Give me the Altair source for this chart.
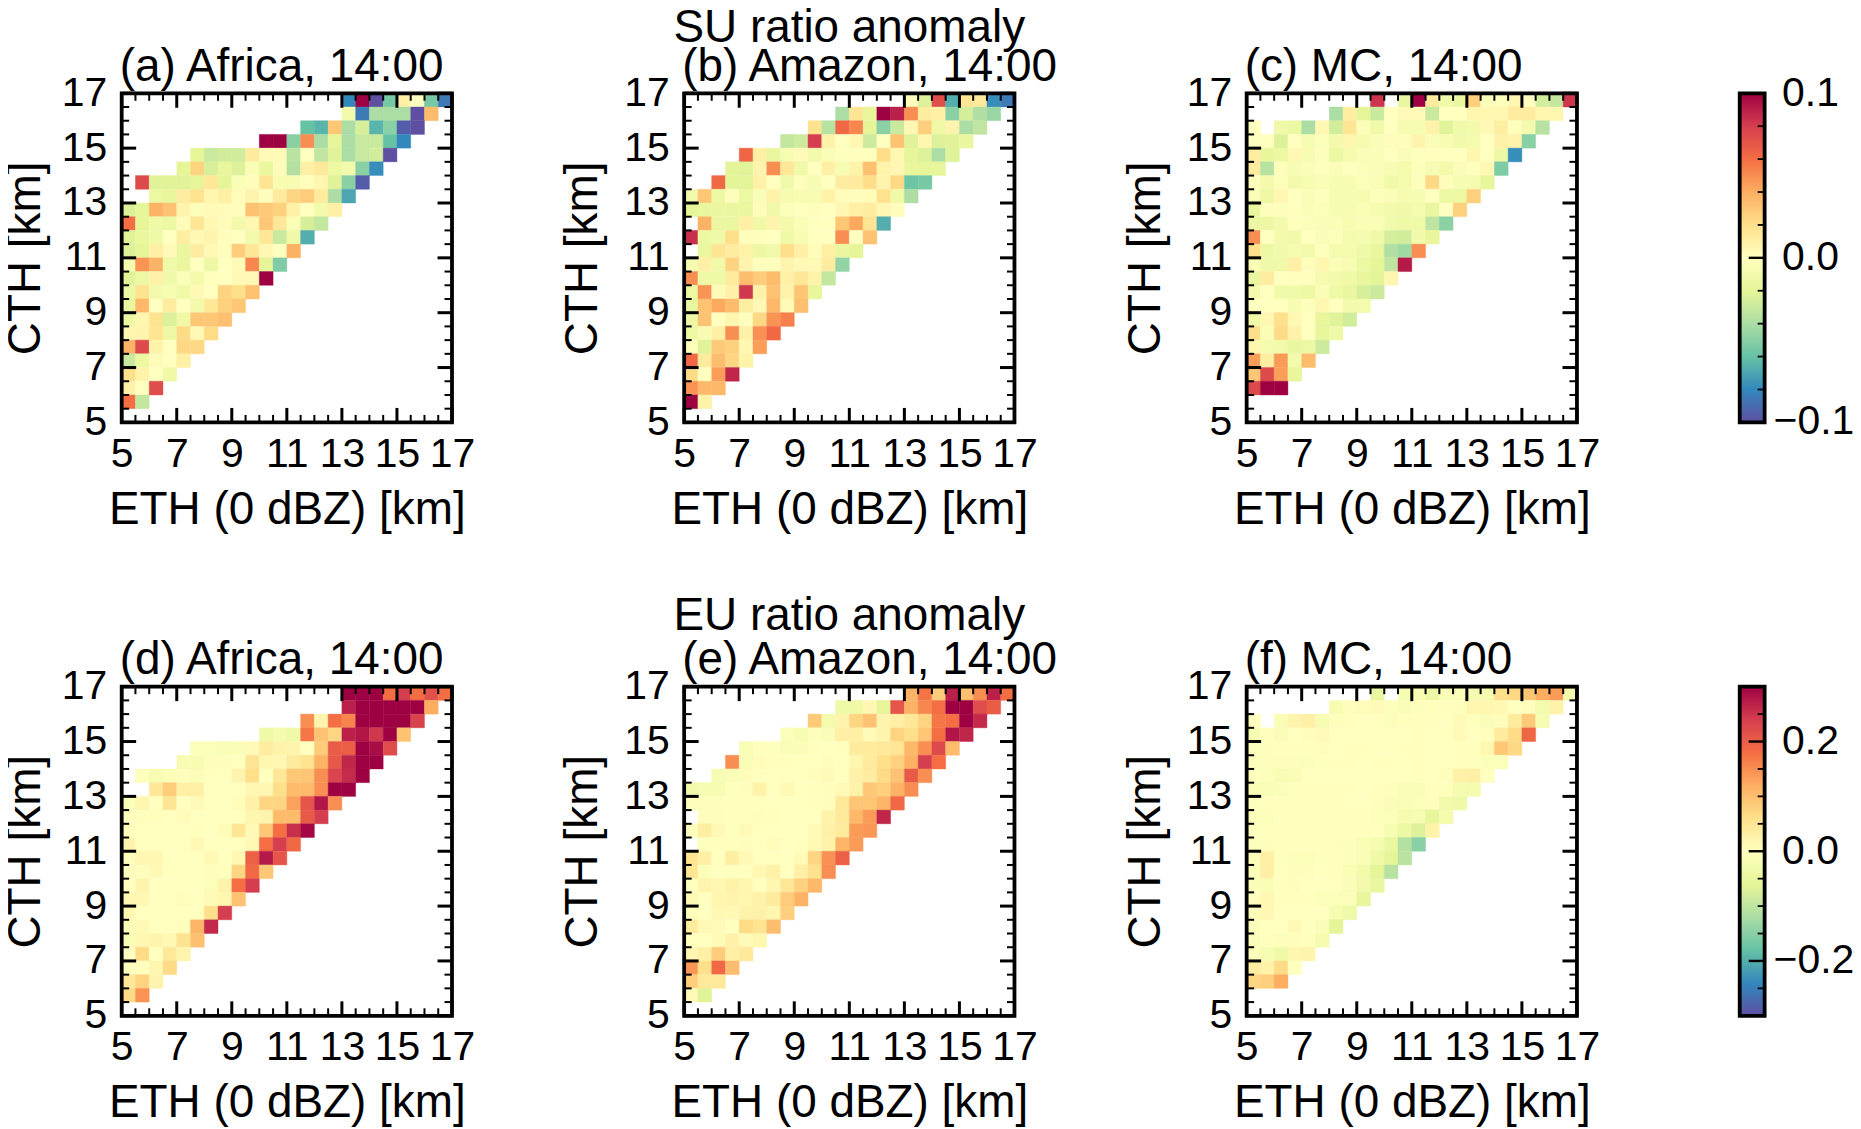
import altair as alt
import pandas as pd

FONT = "Liberation Sans"
FS = 46
TICK_FS = 41
W, H = 331.2, 330
LEFT0, TOP0 = 122, 92
SVG_W, SVG_H = 1850, 1121

SPECTRAL = ["#5e4fa2", "#3288bd", "#66c2a5", "#abdda4", "#e6f598", "#ffffbf",
            "#fee08b", "#fdae61", "#f46d43", "#d53e4f", "#9e0142"]
X0, BIN = 5, 0.5
MAJOR = [5, 7, 9, 11, 13, 15, 17]
MINOR = [5.5, 6, 6.5, 7.5, 8, 8.5, 9.5, 10, 10.5, 11.5, 12, 12.5,
         13.5, 14, 14.5, 15.5, 16, 16.5]

# every row, from CTH 17 km downward: (first ETH column, values as tenths of the colour limit)
N = None
A = [(16,[-8,10,-10,-5.5,1,0,-5.5,-8.5]),
(16,[-1,-8.5,-4,-4,-4,-10,3.5]),
(13,[-6,-6.5,3,-4,-2.5,-6.5,-5,-9.5,-10]),
(10,[10,10,-5,5,-4,-2,-4,-3,-3,-6,-8]),
(5,[-2,-3,-2.7,-2.7,1.3,.3,.3,-3.5,0,-3.3,-2.2,-4,-3,-2.7,-10]),
(4,[-2,2.5,-2.5,-1.8,-2.3,-.5,-1.7,.2,-3.7,1,1.4,-1.5,-1,-5,-7.8]),
(1,[7.5,-2.2,-2.2,-2.2,-2,1.5,-2,-.5,.1,1.7,-.6,-.6,-.1,.6,-2.2,-5,-9.5]),
(2,[-1.5,-1.8,1.2,1.8,.6,1,.2,.7,.1,1.3,2.4,2.8,1.3,-4,-7]),
(0,[-2.3,-2,3.8,3.2,.7,-.3,.3,.2,.1,3.2,2.9,2.6,.9,0,-1,1]),
(0,[6,-2,-1.3,-1.5,.2,1.6,.5,.2,-1,.5,3,1.5,-.5,-2.5,-3.2]),
(0,[-2.2,-1.7,-1.3,0,1.1,.4,.7,.1,0,-1,1.5,-3,-1.2,-6.7]),
(0,[-2.3,-2,1,.3,-1.7,1.2,.4,.1,2.8,1.5,.5,0,3.9]),
(0,[-.8,4.8,3.8,-1.2,-1.7,0,-1.4,0,.3,5.2,-2,-5.3]),
(0,[-2.2,-1.4,.9,-1.2,-.4,-1,-.1,0,.4,.4,10]),
(0,[-1.5,1.8,-1,-.7,-1.2,.4,0,2.5,2,3.2]),
(0,[-1.7,3.6,0,1.2,0,-1,1.5,2.6,3]),
(0,[-1.5,.6,1.8,-2.3,-1.2,3,3,3.3]),
(0,[.6,.7,1.7,-1.4,2.2,.4,2.2]),
(0,[3.8,7.5,.8,0,2.3,2.3]),
(0,[-3,-1.5,.2,0,1]),
(0,[2,.8,0,-1.3]),
(0,[.9,0,7.4]),
(0,[6,-3.2])]

B = [(16,[-.2,-2.3,7.3,-6.7,1.7,1.4,-7.8,-8.5]),
(11,[-4,1.6,-1.8,10,9,5,1.2,1,-5,-2.6,-3.8,-4.5]),
(9,[1.9,-3.6,6.2,5.2,-2,-5,-3,.5,2.7,-1.3,.7,-4,-3.3]),
(7,[-3.2,-2.8,8,.8,0,.5,-2.8,0,3.2,-2.2,.6,-2.3,-2.2,-1.6]),
(4,[6.3,1,-1.7,-.7,.3,-1,-.4,-.1,-.1,-.1,2.1,.5,-2,-2.3,-4,-2.2]),
(3,[-2.1,-2.2,.7,5,1.5,-1.2,0,1,-.7,.8,3.3,.8,.5,-1.8,-1.9,-1.9]),
(2,[6.2,-2.1,-2.1,.9,0,-1.1,-.2,-.7,0,1.2,1.3,2.1,.7,2.3,-5.8,-5.5]),
(0,[-1,3,-1.5,.1,-1.5,-.4,.8,-.8,-.6,-.6,.8,.2,.1,.2,1.9,-1.3,-3.9]),
(0,[-2,-1.7,-1.6,-1.6,-1.7,.2,-1.2,-.3,0,-.2,0,.5,1,1.2,.5,.1]),
(1,[3.8,-1.6,-1.6,1,-1.3,.7,-1,-.5,-.1,0,3,4.2,1.7,-6.7]),
(0,[8.5,-1.5,-1.2,2,.1,-.2,0,-1.2,-.6,0,0,5,0,3.2]),
(1,[-1.7,1.7,1.2,.8,-1.4,-1.1,2,1,.2,1,-1.6,-2]),
(0,[-.8,1,-1.2,2.5,.7,-.2,-.2,.7,.4,.4,1.2,-4.7]),
(0,[5,-1.3,-1.3,1.3,3.4,2.8,3.5,.9,1.5,.8,-3.2]),
(0,[-1.5,4.8,.3,.9,8.2,.9,3.2,.8,3.1,-1.8]),
(0,[-1.6,3.2,4.2,3.5,1.1,.4,3.6,.3,3.3]),
(0,[-1.4,3.2,0,.6,-.1,2.3,4.8,5.4]),
(0,[-1.5,-.6,1,5,.9,4.9,6.2]),
(0,[-.2,-2.2,2.9,2.6,.5,4.5]),
(0,[6.2,1.3,3.4,2.4,.8]),
(0,[2.2,0,4.5,8.8]),
(0,[4.8,3.6,3.6]),
(0,[10,.8])]

C = [(9,[8.3,N,-1.6,10,1.3,-1.1,-1.6,2.7,-.4,-.2,.5,0,-2.7,-3.2,8.3]),
(6,[-4,1.1,-2,-3,0,.3,.3,-3,0,0,.6,.5,.5,1.2,1.2,.6,.6]),
(0,[0,N,-1.2,-1.5,-4,.5,-2.7,1.6,-.3,-1.2,0,-.8,-.7,.8,-2.2,-1.2,-1,.4,1.1,-.1,-1,-3.6]),
(0,[0,0,-2.3,0,-.7,-.3,-1,.6,-.8,-.4,.1,.1,.7,-.4,-.6,-1.1,-.9,0,.9,.8,-5]),
(0,[1.1,-1.8,-1.5,.5,-.6,-.2,-1.5,-.9,-.4,-.4,0,-.4,-.1,-.2,0,0,.6,0,-1.4,-7.8]),
(0,[1.3,-3.6,-.2,-.7,-.4,-.1,-.4,0,-.3,-.4,-.7,-.9,-.2,-.7,-1,-.4,-.1,.5,-5.3]),
(0,[-.2,-1,-.3,-1,-.7,-.4,-.7,-.7,-.3,-.5,-1.2,-.9,-.2,2.3,.1,-.7,-.8,-1.8]),
(0,[-.5,-1.4,.5,0,-.4,-.1,-.7,-.7,-.8,-.3,-.5,-.8,-.7,0,-1.5,-1.5,2.6]),
(0,[-1.7,-.2,-.2,-.1,-.5,-.3,-.7,-.7,-.5,-.8,-1,-1.2,-.8,-1.7,0,2.6]),
(0,[-1.4,-1.4,-1,-.1,-.3,-.4,-.5,-.6,-.5,-.5,-1.1,-1.3,-1.2,-3.4,-4.9]),
(0,[5,0,-1,-1.1,0,-.4,-.3,-.9,-.8,-1.2,-2.6,-2.7,-1.1,-1.8]),
(0,[2,-1.4,-1.1,-.8,-1,-.1,-.9,-.9,-1.2,-1.8,-3.8,-4.3,5]),
(0,[-.5,-1.2,-1.2,1,.1,.6,-.5,-.6,-1.5,-2,-3.3,9.2]),
(0,[-1.6,1.2,0,-.1,-.1,-.8,-1,-1.3,-1.8,-2.1,.6]),
(0,[-1,0,-1.1,-1.1,-1.4,-.5,-1.3,-1.6,-2.5,-2.9]),
(0,[0,0,0,-.7,-.2,.5,0,-1,-.9]),
(0,[-1.3,.5,2,.5,0,-1.8,-2.2,-2.7]),
(0,[2,-.5,2.2,.8,0,-1.8,-1.2]),
(0,[.6,-.9,-1,-1.6,-1.4,-2.8]),
(0,[4.5,1.1,4.6,-1,3.5]),
(0,[3,7.5,4.5,-1.8]),
(0,[7.5,10,10])]

D = [(16,[10,10,10,6,8,6,7.2,6]),
(16,[9,10,10,10,10,10,4]),
(13,[5,.7,6,5.3,10,10,10,10,7.8]),
(10,[-1.2,-.9,-1.2,5.7,3.2,2.4,9,9.3,8.2,10,3.2]),
(5,[-.3,-.3,-.5,-.4,.3,1.2,.8,.7,0,2.8,6.7,6.6,10,9.6,7.4]),
(4,[-.6,-.6,-.2,-.2,0,1.7,.6,.5,1.3,1.8,3.8,6.9,8.8,10,10]),
(1,[-.1,-.6,-.3,-.2,-.4,-.1,0,.7,2,0,1.5,3,3.1,5,7.7,8.6,10]),
(2,[1.5,2.8,1,1,0,0,0,.5,.5,2,3.5,3.5,5,10,10]),
(0,[-.3,.6,0,1.7,0,.3,0,0,.2,.9,2.4,2.4,4.4,7,9.3,5]),
(0,[-.2,-.2,-.1,0,.2,0,0,0,0,.6,.7,3.5,3.5,6.8,8]),
(0,[-.1,0,0,0,0,-.1,0,.2,1.6,.4,3,6,8.5,9.8]),
(0,[.7,0,0,0,0,.4,0,0,0,.4,6,8,6.2]),
(0,[-.2,.5,.5,0,0,0,.4,0,.5,6.5,9.2,7]),
(0,[-.2,-.2,.4,0,0,0,-.2,-.1,2.4,6.2,3]),
(0,[0,.7,0,0,0,0,-.3,.8,6,8]),
(0,[.5,.5,0,0,.1,0,.3,.6,3.2]),
(0,[.5,0,0,0,0,0,2,8]),
(0,[-.4,.4,0,0,.1,3.7,8.7]),
(0,[-.5,.5,.7,.4,1.8,3.3]),
(0,[0,2.2,0,1.4,.7]),
(0,[-.1,-.1,.6,2.2]),
(0,[1.5,2.5,.7]),
(0,[2.2,4.8])]

E = [(16,[3.8,5.8,2.8,9,3.3,5,9,6]),
(11,[-1.2,-1.3,.5,-2,7,3.8,5.2,6,10,10,7.4,6.7]),
(9,[2.9,-.9,.7,2.4,3.2,.7,1,1.5,2.5,5.7,6,10,8.7]),
(7,[-.3,-.7,-.2,-.4,1,1,.3,.7,2.5,2,3.1,6,9.3,8.8]),
(4,[-.5,-.1,-.1,-.4,-.4,-.1,0,-.1,1.3,1.3,1.4,1.6,3.6,5,7.5,3.5]),
(3,[5,-.5,.2,-.1,-.1,0,0,.1,0,.6,1.3,2,2.6,3.9,8,6]),
(2,[-.7,-.4,.2,0,0,0,0,.1,.3,0,.9,1.2,2.2,3.2,6.8,5]),
(0,[-1,-.7,-.7,-.1,-.2,.8,0,.4,0,-.1,.1,.3,.8,3,2.7,3.8,5]),
(0,[-.2,-.2,-.2,-.1,-.1,-.1,0,0,0,-.1,.1,1.4,3.1,3.1,3.7,6.2]),
(1,[-.2,-.2,-.1,-.1,-.2,-.1,0,0,0,.8,1.4,3.6,4.6,8.8]),
(0,[-.1,1.1,.4,-.1,.3,-.1,0,0,0,.3,.9,1.3,4.6,4.7]),
(1,[-.1,-.1,-.1,-.2,0,.2,0,-.1,.4,.8,3.7,4.6]),
(0,[1.8,1,0,1.1,.4,0,0,0,.3,2.4,4.9,6.5]),
(0,[1.6,-.3,0,0,0,.5,.9,0,1,1.9,5]),
(0,[0,.7,.5,.8,.6,0,.6,1.5,2.6,3.6]),
(0,[.4,0,.6,.7,.6,.9,1.3,2.8,3.8]),
(0,[-.2,0,.5,.4,.8,.9,.6,2.7]),
(0,[1.3,.4,.3,0,2.2,1.8,3.4]),
(0,[0,0,.3,.9,.3,.6]),
(0,[.5,1,2.8,1,1.4]),
(0,[4.7,2,6.2,3.4]),
(0,[2.8,1.4,1.4]),
(0,[.3,-2.2])]

F = [(9,[-1.6,N,-.7,-.6,-1.4,-.4,-.4,-.8,-.8,2,2.3,3.1,4,4.6,-.9]),
(6,[-.6,-.2,.2,.3,-.2,-.4,-.2,-.1,-.1,-.2,.6,.6,.4,0,-.2,-.9,.8]),
(0,[-.1,N,-.5,.7,1,-.7,-.2,-.1,0,0,-.3,-.1,-.1,-.1,0,.3,-.1,-.4,.1,1.3,2.9,-.7]),
(0,[-.7,-.1,-.4,0,.1,.3,0,0,0,0,0,0,-.1,0,0,.3,0,-.1,1.3,2.2,6.3]),
(0,[-.2,-.2,-.1,-.1,-.1,.1,0,-.1,-.1,0,0,-.1,-.1,0,0,-.1,-.1,.6,3,2.3]),
(0,[-.2,-.2,-.2,-.2,-.3,-.1,-.1,-.1,0,-.1,-.1,0,-.1,0,0,-.1,-.1,-.3,-.3]),
(0,[-.1,-.3,-.6,-.5,0,0,0,0,0,0,0,0,-.1,0,.1,.9,1,0]),
(0,[-.5,-.5,-.3,-.1,-.1,-.1,-.1,-.1,0,-.1,-.2,-.4,-.5,-.1,-.1,-.8,-.8]),
(0,[-.2,-.1,-.1,-.1,-.1,-.1,-.1,0,0,-.2,-.4,-.4,-.3,-.2,-1,-1.2]),
(0,[-.3,-.3,-.1,-.1,-.1,-.1,-.1,-.1,-.1,-.3,-.3,-.8,-.7,-1.9,-.9]),
(0,[-.1,-.1,-.1,-.1,-.1,-.1,-.1,-.1,-.1,-.1,-.7,-1.5,-2.3,.8]),
(0,[-.2,-.2,-.1,-.1,-.1,-.1,-.2,-.2,-.5,-.8,-1.7,-3.7,-5]),
(0,[-.3,1,-.1,-.3,-.3,-.1,-.1,-.2,-.5,-1.3,-2,-3.5]),
(0,[-.3,1,0,.1,.1,0,-.1,-.5,-1,-2,-3.6]),
(0,[-.3,-.5,-.1,-.2,0,0,0,-.4,-1,-1.6]),
(0,[-.1,.5,-.1,-.1,-.1,-.3,-.3,-.3,-1.8]),
(0,[-.3,.5,0,0,0,0,-.8,-1.2]),
(0,[-.3,0,0,.4,0,-.4,-2]),
(0,[-.3,-.1,-.2,-.2,-.1,-.8]),
(0,[-.3,-.7,-1.2,.6,.7]),
(0,[1.2,.8,2.2,0]),
(0,[2.4,2.7,4])]

PANELS = [("(a) Africa, 14:00", A, 0.1), ("(b) Amazon, 14:00", B, 0.1), ("(c) MC, 14:00", C, 0.1),
          ("(d) Africa, 14:00", D, 0.3), ("(e) Amazon, 14:00", E, 0.3), ("(f) MC, 14:00", F, 0.3)]
SUPER = {1: ("SU ratio anomaly", -51), 4: ("EU ratio anomaly", -57)}

AX_X = alt.Axis(values=MAJOR, title="ETH (0 dBZ) [km]", grid=False, domain=False, ticks=False, tickSize=0,
                labelPadding=12, titlePadding=13, labelFlush=False, labelOverlap=False, format="d")


def y_axis(col):
    return alt.Axis(values=MAJOR, title="CTH [km]", grid=False, domain=False, ticks=False, tickSize=0,
                    labelPadding=15, titlePadding=12 if col == 0 else 17,
                    labelFlush=False, labelOverlap=False, format="d")


def table(rows, vmax):
    out = []
    for r, (start, vals) in enumerate(rows):
        for i, u in enumerate(vals):
            if u is None:
                continue
            x = X0 + BIN * (start + i)
            top = 17 - BIN * r
            out.append({"x": x, "x2": x + BIN, "y": top - BIN, "y2": top, "v": u * vmax / 10})
    return pd.DataFrame(out)


def tick_layers(sx, sy, ax_y):
    layers = []
    for vals, ln, wd in ((MAJOR, 14.5, 3), (MINOR, 7.5, 2)):
        d = pd.DataFrame({"t": vals})
        X = alt.X("t:Q", scale=sx, axis=AX_X)
        Y = alt.Y("t:Q", scale=sy, axis=ax_y)
        layers += [
            alt.Chart(d).mark_rule(color="black", strokeWidth=wd).encode(x=X, y=alt.value(0), y2=alt.value(ln)),
            alt.Chart(d).mark_rule(color="black", strokeWidth=wd).encode(x=X, y=alt.value(H - ln), y2=alt.value(H)),
            alt.Chart(d).mark_rule(color="black", strokeWidth=wd).encode(y=Y, x=alt.value(0), x2=alt.value(ln)),
            alt.Chart(d).mark_rule(color="black", strokeWidth=wd).encode(y=Y, x=alt.value(W - ln), x2=alt.value(W)),
        ]
    return layers


def label(text, px, py, align):
    return alt.Chart(pd.DataFrame({"t": [text]})).mark_text(
        font=FONT, fontSize=FS, baseline="alphabetic", align=align, color="black"
    ).encode(text="t:N", x=alt.value(px), y=alt.value(py))


def panel(idx, title, rows, vmax):
    ax_y = y_axis(idx % 3)
    sx = alt.Scale(domain=[5, 17], nice=False, zero=False)
    sy = alt.Scale(domain=[5, 17], nice=False, zero=False)
    dom = [vmax * (k - 5) / 5 for k in range(11)]
    col = alt.Scale(domain=dom, range=SPECTRAL, clamp=True, interpolate="rgb")
    cells = alt.Chart(table(rows, vmax)).mark_rect(strokeWidth=0.4).encode(
        x=alt.X("x:Q", scale=sx, axis=AX_X), x2="x2:Q",
        y=alt.Y("y:Q", scale=sy, axis=ax_y), y2="y2:Q",
        color=alt.Color("v:Q", scale=col, legend=None),
        stroke=alt.Stroke("v:Q", scale=col, legend=None),
    )
    frame = alt.Chart(pd.DataFrame({"a": [5], "b": [17]})).mark_rect(
        fillOpacity=0, stroke="black", strokeWidth=3.8
    ).encode(x=alt.X("a:Q", scale=sx, axis=AX_X), x2="b:Q", y=alt.Y("a:Q", scale=sy, axis=ax_y), y2="b:Q")
    layers = [cells] + tick_layers(sx, sy, ax_y) + [frame, label(title, -2, -12.5, "left")]
    if idx in SUPER:
        layers.append(label(SUPER[idx][0], W / 2, SUPER[idx][1], "center"))
    return alt.layer(*layers).properties(width=W, height=H)


CB_LEFT, CB_W = -69.6, 25
# labels at or above zero, label below zero (value, text), major ticks, minor ticks
CB_TICKS = {0.1: ([0.0, 0.1], (-0.1, "\u22120.1"), [0.0], [-0.08, -0.06, -0.04, -0.02, 0.02, 0.04, 0.06, 0.08]),
            0.3: ([0.0, 0.2], (-0.2, "\u22120.2"), [-0.2, 0.0, 0.2], [-0.25, -0.15, -0.1, -0.05, 0.05, 0.1, 0.15, 0.25])}


def colorbar(vmax):
    pos, neg, major, minor = CB_TICKS[vmax]
    sy = alt.Scale(domain=[-vmax, vmax], nice=False, zero=False)
    stops = [{"color": c, "offset": k / 10} for k, c in enumerate(SPECTRAL)]
    grad = {"gradient": "linear", "x1": 0, "y1": 1, "x2": 0, "y2": 0, "stops": stops}
    d = pd.DataFrame({"a": [-vmax], "b": [vmax]})
    right = CB_LEFT + CB_W
    ax = alt.Axis(orient="right", values=pos, title=None, grid=False, domain=False, ticks=False, tickSize=0,
                  labelPadding=17, offset=right - CB_W, labelFlush=False, labelOverlap=False, format=".1f")
    Y = lambda f: alt.Y(f, scale=sy, axis=ax)
    bar = alt.Chart(d).mark_rect(fill=grad).encode(x=alt.value(CB_LEFT), x2=alt.value(right), y=Y("a:Q"), y2="b:Q")
    tk = []
    for vals, ln, wd in ((major, 16, 2.4), (minor, 7, 1.8)):
        tk.append(alt.Chart(pd.DataFrame({"t": vals})).mark_rule(color="black", strokeWidth=wd).encode(
            y=Y("t:Q"), x=alt.value(right - ln), x2=alt.value(right)))
    frame = alt.Chart(d).mark_rect(fillOpacity=0, stroke="black", strokeWidth=3.8).encode(
        x=alt.value(CB_LEFT), x2=alt.value(right), y=Y("a:Q"), y2="b:Q")
    neg_label = alt.Chart(pd.DataFrame({"t": [neg[0]], "s": [neg[1]]})).mark_text(
        font=FONT, fontSize=TICK_FS, align="left", baseline="middle", color="black"
    ).encode(y=Y("t:Q"), x=alt.value(right + 9), text="s:N")
    return alt.layer(bar, *tk, frame, neg_label).properties(width=CB_W, height=H)


charts = [panel(i, t, r, v) for i, (t, r, v) in enumerate(PANELS)]
grid = [charts[0], charts[1], charts[2], colorbar(0.1), charts[3], charts[4], charts[5], colorbar(0.3)]

chart = alt.concat(*grid, columns=4, spacing={"row": 265, "column": 232}, bounds="flush").resolve_scale(
    color="independent", stroke="independent"
).properties(
    autosize=alt.AutoSizeParams(type="none"),
    padding={"left": LEFT0 - 8, "top": TOP0 - 8, "right": SVG_W - (LEFT0 - 8), "bottom": SVG_H - (TOP0 - 8)},
    background="white",
).configure_view(stroke=None).configure_axis(
    labelFont=FONT, titleFont=FONT, labelFontSize=TICK_FS, titleFontSize=FS, labelColor="black", titleColor="black",
    titleFontWeight="normal",
)

chart.save("out.html", embed_options={"renderer": "svg", "actions": False})
